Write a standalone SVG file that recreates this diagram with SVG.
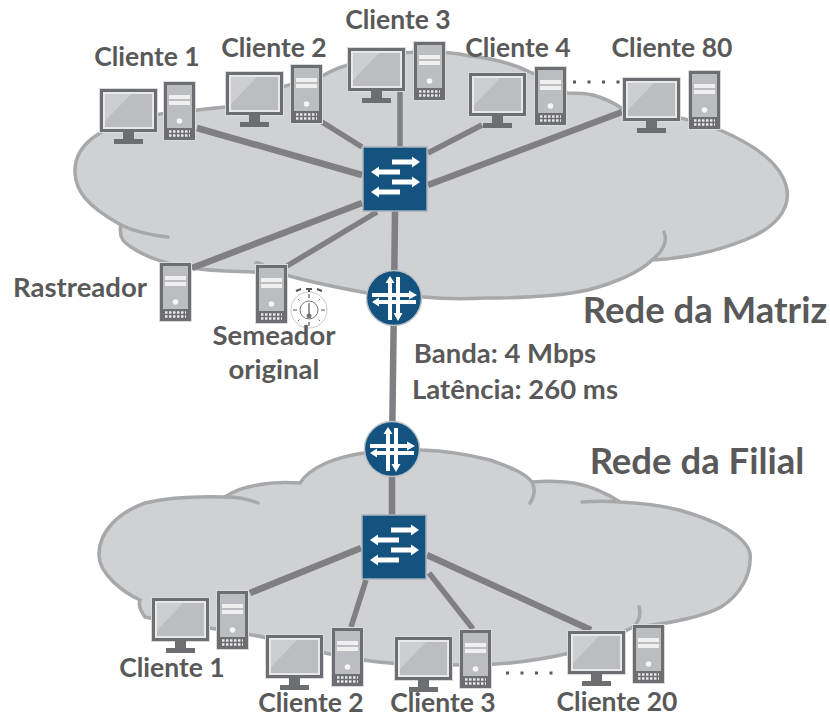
<svg xmlns="http://www.w3.org/2000/svg" width="830" height="717" viewBox="0 0 830 717">
<style>
text{font-family:"Lato","Open Sans","Liberation Sans",sans-serif;font-weight:700;fill:#595959;text-anchor:middle}
.l{font-size:26.500px}.m{font-size:27.500px}.h{font-size:36.500px}
.cloud{fill:#d0d1d4;stroke:#a7a8aa;stroke-width:3.500}
.curl{fill:none;stroke:#a7a8aa;stroke-width:3.500;stroke-linecap:round}
.link{stroke:#808084;stroke-width:6.500;fill:none}
.thin{stroke:#808084;stroke-width:5.500;fill:none}
.dots{stroke:#595959;stroke-width:3;stroke-dasharray:3 11.500;fill:none}
</style>
<defs>
<g id="monitor">
<rect x="-1" y="-1" width="59" height="45" fill="#d9dadc"/>
<rect x="0" y="0" width="57" height="43" fill="#6d6e71"/>
<rect x="3" y="3" width="51" height="37" fill="#e8e8e8"/>
<rect x="5" y="5" width="47" height="33" fill="#bcbdc0"/>
<path d="M5 32L31 5H5Z" fill="#cdced0"/>
<rect x="23" y="43" width="11" height="8" fill="#6d6e71"/>
<rect x="14" y="50" width="29" height="5" fill="#6d6e71"/>
</g>
<g id="tower">
<rect x="-1" y="-1" width="33" height="60" fill="#d9dadc"/>
<rect x="0" y="0" width="31" height="58" fill="#6d6e71"/>
<rect x="3" y="3" width="25" height="43" fill="#bcbdc0"/>
<rect x="5" y="13" width="21" height="4" fill="#f0f0f0"/>
<rect x="5" y="19" width="21" height="4" fill="#f0f0f0"/>
<circle cx="15.500" cy="39" r="2.800" fill="#f5f5f5"/>
<path d="M5 49.500h21M5 53.500h21" stroke="#e8e8e8" stroke-width="2.500" stroke-dasharray="2.500 1.500"/>
</g>
<g id="switch">
<rect x="0" y="0" width="64" height="64" fill="#14527f" stroke="#a7b2bb" stroke-width="1.500"/>
<g fill="#fff">
<path d="M29 12.500H49V9.500L57 15L49 20.500V17.500H29Z"/>
<path d="M37 22.500H16V19.500L8 25L16 30.500V27.500H37Z"/>
<path d="M29 32.500H49V29.500L57 35L49 40.500V37.500H29Z"/>
<path d="M37 42.500H16V39.500L8 45L16 50.500V47.500H37Z"/>
</g>
</g>
<g id="router">
<circle r="27.500" fill="#14527f" stroke="#b9c0c6" stroke-width="1.500"/>
<g fill="#fff">
<path d="M-6 22V-15H-8.500L-4 -22L0.500 -15H-2V22Z"/>
<path d="M2 -21H6V15H8.500L4 23L-0.500 15H2Z"/>
<path d="M-22 -5H15V-7.500L23 -3L15 1.500V-1H-22Z"/>
<path d="M22 2V6H-15V8.500L-22 4L-15 -0.500V2Z"/>
</g>
<rect x="-2" y="-1" width="4" height="3" fill="#14527f"/>
</g>
<g id="clock" fill="none" stroke="#8a8b8d">
<circle cx="0" cy="0" r="18" fill="#fff" stroke="#c8c9cb"/>
<circle cx="0" cy="0" r="9" stroke="#77787a" stroke-width="1"/>
<circle cx="0" cy="6" r="2.500" fill="#77787a" stroke="none"/>
<path d="M0 6V-7" stroke="#55565a" stroke-width="1.200"/>
<path d="M0 -16V-12M0 12V16M-16 0H-12M12 0H16" stroke="#55565a" stroke-width="1.200"/>
<path d="M-11 -11l1.500 1.500M11 -11l-1.500 1.500M-11 11l1.500 -1.500M11 11l-1.500 -1.500" stroke="#77787a"/>
<path d="M-3 -21H3M0 -21V-18M-13 -19l5 -2M13 -19l-5 -2" stroke="#55565a" stroke-width="2"/>
</g>
</defs>
<rect width="830" height="717" fill="#fff"/>
<g id="clouds">
<path id="cloud-matriz" class="cloud" d="M100 133C85 142 74 155 75 173C76 190 85 205 121 225C118 238 125 243 131 247C150 260 170 265 192 268C225 273 255 270 286 275C310 282 340 288 367 293C385 297 405 297 423 297C445 299 465 299 485 298C520 298 560 296 588 290C615 283 640 272 652 260C690 258 720 250 745 240C775 228 790 210 787 190C783 165 755 145 720 130C690 118 655 112 621 108C610 100 600 97 593 95C585 93 575 93 567 93C560 85 545 78 532 73C510 62 490 58 470 56C430 48 380 52 348 65C335 68 330 72 324 75C290 85 250 95 225 107C215 108 205 109 197 110C160 112 125 120 100 133Z"/>
<path class="curl" d="M121 225C135 232 150 235 168 237M664 232C668 242 662 252 652 260M256 263C260 262 264 265 268 269"/>
<path id="cloud-filial" class="cloud" d="M99 555C99 530 120 512 145 503C170 497 195 496 225 497C235 490 245 487 258 485C272 482 285 482 300 483C305 475 315 468 326 463C338 458 350 455 364 453C385 449 405 449 422 450C450 451 470 455 490 460C510 467 525 473 532 482C545 481 560 481 574 483C590 486 608 494 620 502C640 503 660 505 679 510C715 520 745 535 750 553C752 575 740 595 721 607C705 616 670 624 633 627C610 640 590 648 570 653C540 660 505 665 469 665C430 665 395 665 363 660C330 655 295 647 263 637C225 630 185 625 145 617C140 610 138 605 140 600C125 593 99 575 99 555Z"/>
<path class="curl" d="M225 497C237 497 248 499 258 503M532 482C536 490 534 497 530 503M582 502C595 501 608 501 620 502M639 607C641 615 639 622 633 627"/>
</g>
<g id="connectors">
<path class="link" d="M197 128L362 175"/>
<path class="thin" d="M322 122L362 147"/>
<path class="thin" d="M400 92V147"/>
<path class="thin" d="M482 125L428 153"/>
<path class="link" d="M622 112L428 185"/>
<path class="link" d="M192 268L362 203"/>
<path class="thin" d="M287 266L377 212"/>
<path class="link" d="M395 211L394 298L392 449V515"/>
<path class="link" d="M361 548L250 593"/>
<path class="thin" d="M366 580L351 627"/>
<path class="thin" d="M429 573L473 629"/>
<path class="link" d="M427 555L591 630"/>
<path class="dots" d="M573 82H622"/>
<path class="dots" d="M506 673H555"/>
</g>
<g id="cliente1-matriz"><use href="#monitor" x="100" y="89"/><use href="#tower" x="164" y="82"/><text class="l" x="147" y="66">Cliente 1</text></g>
<g id="cliente2-matriz"><use href="#monitor" x="226" y="72"/><use href="#tower" x="291" y="65"/><text class="l" x="274" y="57">Cliente 2</text></g>
<g id="cliente3-matriz"><use href="#monitor" x="348" y="48"/><use href="#tower" x="414" y="42"/><text class="l" x="398" y="29">Cliente 3</text></g>
<g id="cliente4-matriz"><use href="#monitor" x="469" y="73"/><use href="#tower" x="535" y="67"/><text class="l" x="518" y="57">Cliente 4</text></g>
<g id="cliente80-matriz"><use href="#monitor" x="623" y="78"/><use href="#tower" x="689" y="71"/><text class="l" x="672" y="57">Cliente 80</text></g>
<g id="rastreador"><use href="#tower" x="160" y="263"/><text class="m" x="80" y="297">Rastreador</text></g>
<g id="semeador"><use href="#tower" x="256" y="265"/><use href="#clock" x="309" y="310"/><text class="m" x="274" y="345">Semeador</text><text class="m" x="274" y="379">original</text></g>
<g id="switch-matriz"><use href="#switch" x="363" y="147"/></g>
<g id="router-matriz"><use href="#router" x="394" y="298"/></g>
<g id="router-filial"><use href="#router" x="392" y="449"/></g>
<g id="switch-filial"><use href="#switch" x="362" y="515"/></g>
<g id="cliente1-filial"><use href="#monitor" x="152" y="598"/><use href="#tower" x="217" y="591"/><text class="l" x="172" y="677">Cliente 1</text></g>
<g id="cliente2-filial"><use href="#monitor" x="266" y="635"/><use href="#tower" x="332" y="628"/><text class="l" x="311" y="712">Cliente 2</text></g>
<g id="cliente3-filial"><use href="#monitor" x="395" y="637"/><use href="#tower" x="460" y="630"/><text class="l" x="443" y="712">Cliente 3</text></g>
<g id="cliente20-filial"><use href="#monitor" x="568" y="631"/><use href="#tower" x="633" y="625"/><text class="l" x="617" y="711">Cliente 20</text></g>
<g id="labels">
<text class="h" x="705" y="323">Rede da Matriz</text>
<text class="h" x="697" y="474">Rede da Filial</text>
<text class="m" x="505" y="363">Banda: 4 Mbps</text>
<text class="m" x="515" y="399">Latência: 260 ms</text>
</g>
</svg>
